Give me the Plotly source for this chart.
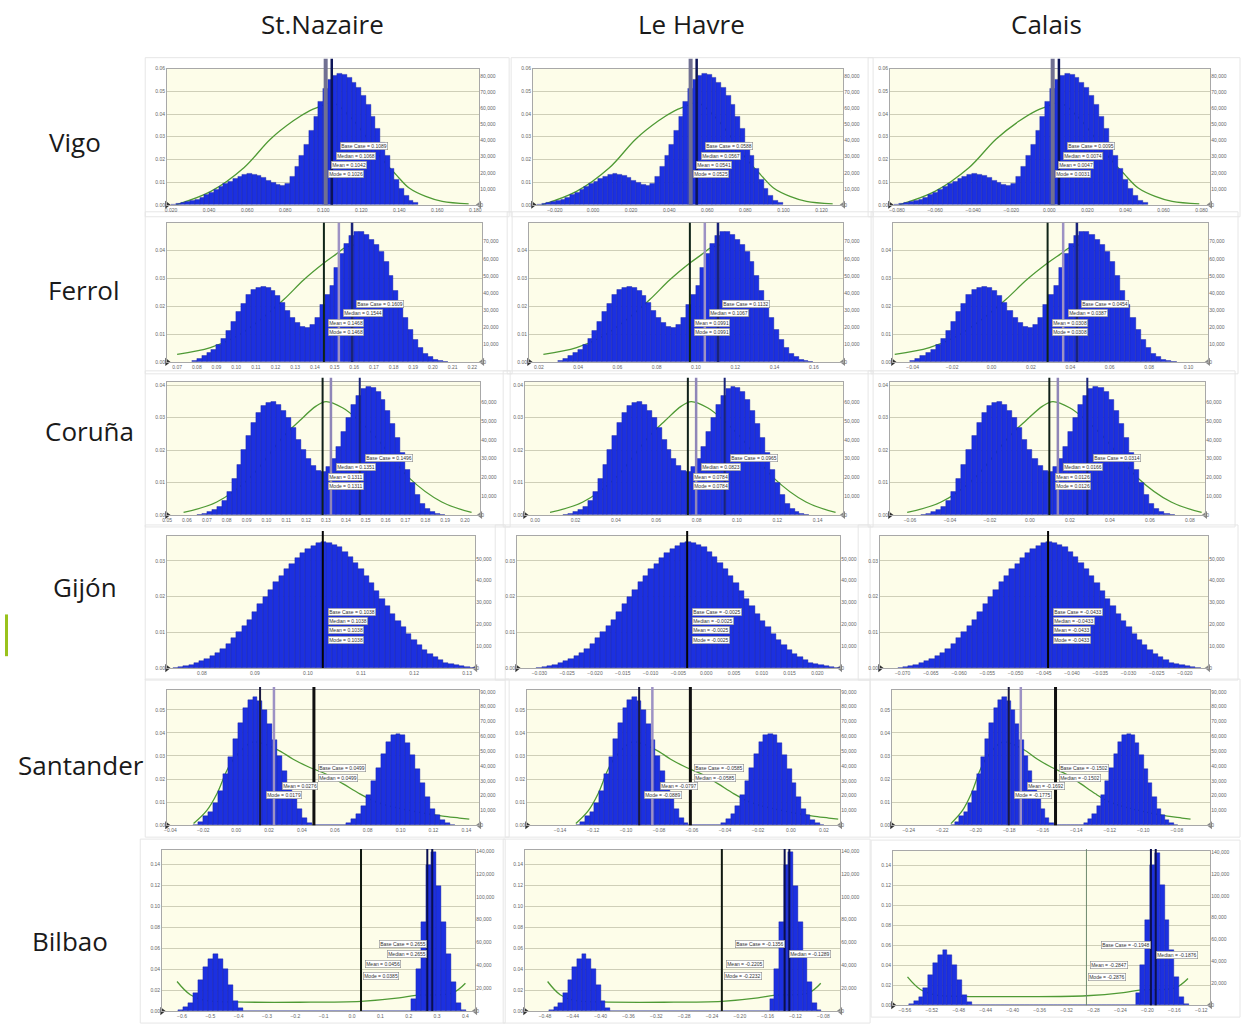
import plotly.graph_objects as go

W, H = 1246, 1035

ports = ["St.Nazaire", "Le Havre", "Calais"]
routes = ["Vigo", "Ferrol", "Coruña", "Gijón", "Santander", "Bilbao"]

# ---------------- DATA ----------------
# Histogram bar heights (density per bin, left-axis units).
# The Le Havre and Calais panels of the same route show the same shape on their own x scale.
vigo_h = [0.0002, 0.0004, 0.0008, 0.0012, 0.0018, 0.0025, 0.0033, 0.0043, 0.0054, 0.0066,
          0.0079, 0.0092, 0.0104, 0.0115, 0.0125, 0.0132, 0.0136, 0.0135, 0.0130, 0.0120,
          0.0108, 0.0096, 0.0088, 0.0085, 0.0095, 0.0125, 0.0170, 0.0215, 0.0265, 0.0325,
          0.0390, 0.0455, 0.0510, 0.0550, 0.0570, 0.0578, 0.0572, 0.0560, 0.0540, 0.0515,
          0.0480, 0.0440, 0.0390, 0.0335, 0.0275, 0.0215, 0.0160, 0.0110, 0.0070, 0.0040,
          0.0020, 0.0008]
ferrol_h = [0.0005, 0.0012, 0.0022, 0.0032, 0.0045, 0.0060, 0.0085, 0.0112, 0.0145, 0.0180,
            0.0210, 0.0240, 0.0258, 0.0268, 0.0271, 0.0268, 0.0255, 0.0236, 0.0212, 0.0185,
            0.0160, 0.0140, 0.0126, 0.0124, 0.0135, 0.0160, 0.0205, 0.0240, 0.0275, 0.0340,
            0.0390, 0.0425, 0.0452, 0.0466, 0.0468, 0.0458, 0.0440, 0.0422, 0.0395, 0.0360,
            0.0310, 0.0255, 0.0205, 0.0160, 0.0115, 0.0080, 0.0050, 0.0030, 0.0017, 0.0009,
            0.0004, 0.0002]
coruna_h = [0.0001, 0.0004, 0.0009, 0.0016, 0.0026, 0.0045, 0.0072, 0.0110, 0.0155, 0.0200,
            0.0245, 0.0285, 0.0315, 0.0335, 0.0346, 0.0349, 0.0340, 0.0322, 0.0298, 0.0268,
            0.0232, 0.0200, 0.0172, 0.0150, 0.0135, 0.0134, 0.0148, 0.0172, 0.0210, 0.0255,
            0.0300, 0.0340, 0.0368, 0.0388, 0.0396, 0.0393, 0.0380, 0.0356, 0.0322, 0.0282,
            0.0238, 0.0190, 0.0140, 0.0098, 0.0062, 0.0036, 0.0018, 0.0009, 0.0004, 0.0001]
gijon_h = [0.0002, 0.0004, 0.0007, 0.0010, 0.0014, 0.0019, 0.0025, 0.0033, 0.0043, 0.0055,
           0.0069, 0.0084, 0.0100, 0.0117, 0.0136, 0.0157, 0.0179, 0.0199, 0.0220, 0.0240,
           0.0259, 0.0277, 0.0293, 0.0309, 0.0322, 0.0334, 0.0343, 0.0350, 0.0353, 0.0351,
           0.0346, 0.0338, 0.0326, 0.0311, 0.0295, 0.0277, 0.0258, 0.0238, 0.0216, 0.0195,
           0.0174, 0.0153, 0.0133, 0.0114, 0.0096, 0.0079, 0.0066, 0.0051, 0.0040, 0.0031,
           0.0023, 0.0016, 0.0012, 0.0008, 0.0005, 0.0003, 0.0001]
santander_h = [0.0003, 0.0015, 0.0038, 0.0059, 0.0097, 0.0150, 0.0222, 0.0297, 0.0373, 0.0443,
               0.0510, 0.0543, 0.0555, 0.0540, 0.0500, 0.0440, 0.0370, 0.0300, 0.0235, 0.0170,
               0.0115, 0.0070, 0.0033, 0.0010, 0.0001, 0.0, 0.0, 0.0, 0.0, 0.0,
               0.0001, 0.0010, 0.0026, 0.0050, 0.0082, 0.0130, 0.0190, 0.0250, 0.0310, 0.0360,
               0.0390, 0.0397, 0.0390, 0.0355, 0.0305, 0.0245, 0.0183, 0.0123, 0.0072, 0.0043,
               0.0023, 0.0010, 0.0003]
bilbao_h = [0.001, 0.004, 0.008, 0.017, 0.030, 0.042, 0.050, 0.055, 0.050, 0.040,
            0.025, 0.010, 0.003, 0.0, 0.0, 0.0, 0.0, 0.0, 0.0, 0.0,
            0.0, 0.0, 0.0, 0.0, 0.0, 0.0, 0.0, 0.0, 0.0, 0.0,
            0.0, 0.0, 0.0, 0.0, 0.0, 0.0, 0.0, 0.0, 0.0, 0.0,
            0.0, 0.0, 0.0, 0.0, 0.0, 0.0, 0.0, 0.012, 0.040, 0.085,
            0.140, 0.152, 0.120, 0.085, 0.055, 0.028, 0.008, 0.001]

# First bin edge and bin width for (St.Nazaire, Le Havre, Calais)
vigo_bins = [(0.0200, 0.0025), (-0.0294, 0.00248), (-0.0815, 0.00256)]
ferrol_bins = [(0.0775, 0.0025), (0.0298, 0.0025), (-0.0413, 0.0026)]
coruna_bins = [(0.0650, 0.0025), (0.0139, 0.00244), (-0.0546, 0.00254)]
gijon_bins = [(0.0745, 0.0010), (-0.0305, 0.000957), (-0.0709, 0.000942)]
santander_bins = [(-0.0260, 0.0030), (-0.1305, 0.002845), (-0.2149, 0.002558)]
bilbao_bins = [(-0.6125, 0.0175), (-0.4743, 0.00675), (-0.5540, 0.00716)]

# Green fitted curve (St.Nazaire units)
vigo_gx = [0.0226, 0.0409, 0.0583, 0.0722, 0.0843, 0.0930, 0.0974, 0.1050, 0.1150, 0.1225,
           0.1304, 0.1383, 0.1452, 0.1539, 0.1626, 0.1765]
vigo_gy = [0.0000, 0.0059, 0.0163, 0.0289, 0.0370, 0.0415, 0.0430, 0.0450, 0.0380, 0.0300,
           0.0207, 0.0133, 0.0074, 0.0037, 0.0015, 0.0004]
ferrol_gx = [0.0700, 0.0869, 0.1005, 0.1124, 0.1242, 0.1344, 0.1446, 0.1514, 0.1547, 0.1600]
ferrol_gy = [0.0027, 0.0051, 0.0093, 0.0152, 0.0224, 0.0295, 0.0355, 0.0390, 0.0408, 0.0420]
coruna_gx = [0.0583, 0.0750, 0.0917, 0.1083, 0.1167, 0.1250, 0.1300, 0.1383, 0.1467, 0.1550,
             0.1717, 0.1883, 0.2033]
coruna_gy = [0.0008, 0.0040, 0.0115, 0.0240, 0.0290, 0.0335, 0.0349, 0.0330, 0.0290, 0.0240,
             0.0115, 0.0040, 0.0008]
gijon_gx = []
gijon_gy = []
santander_gx = [-0.0259, -0.0178, -0.0117, -0.0057, -0.0016, 0.0100, 0.0246, 0.0347, 0.0448,
                0.0549, 0.0651, 0.0752, 0.0853, 0.0954, 0.1055, 0.1156, 0.1257, 0.1358, 0.1418]
santander_gy = [0.0007, 0.0064, 0.0136, 0.0236, 0.0286, 0.0360, 0.0329, 0.0286, 0.0250,
                0.0221, 0.0179, 0.0136, 0.0100, 0.0079, 0.0064, 0.0050, 0.0039, 0.0031, 0.0026]
bilbao_gx = [-0.6175, -0.5708, -0.5123, -0.4187, -0.1848, 0.0316, 0.1660, 0.2246, 0.3530, 0.4000]
bilbao_gy = [0.0283, 0.0157, 0.0100, 0.0088, 0.0085, 0.0094, 0.0126, 0.0151, 0.0173, 0.0267]

# Statistic marker lines (St.Nazaire units)
vigo_stats = [0.1013, 0.1045]
ferrol_stats = [0.1446, 0.1522, 0.1589]
coruna_stats = [0.1283, 0.1325, 0.1470]
gijon_stats = [0.1028]
santander_stats = [0.01455, 0.0230, 0.0473]
bilbao_stats = [0.0316, 0.2655, 0.2830]

# Statistic labels: names and anchor values (St.Nazaire units)
stat_names = ["Base Case", "Median", "Mean", "Mode"]
vigo_lab_x = [0.1089, 0.1068, 0.1042, 0.1026]
ferrol_lab_x = [0.1609, 0.1544, 0.1468, 0.1468]
coruna_lab_x = [0.1496, 0.1351, 0.1311, 0.1311]
gijon_lab_x = [0.1038, 0.1038, 0.1038, 0.1038]
santander_lab_x = [0.0499, 0.0499, 0.0276, 0.0179]
bilbao_lab_x = [0.2655, 0.2655, 0.0456, 0.0385]

# Axis scales
vigo_xrange = [(0.0179, 0.1821), (-0.0315, 0.1314), (-0.0837, 0.0845)]
vigo_xticks = [[0.02, 0.04, 0.06, 0.08, 0.10, 0.12, 0.14, 0.16, 0.18],
               [-0.02, 0.0, 0.02, 0.04, 0.06, 0.08, 0.10, 0.12],
               [-0.08, -0.06, -0.04, -0.02, 0.0, 0.02, 0.04, 0.06, 0.08]]
ferrol_xrange = [(0.0649, 0.2251), (0.015, 0.175), (-0.05, 0.11)]
ferrol_xticks = [[0.07, 0.08, 0.09, 0.10, 0.11, 0.12, 0.13, 0.14, 0.15, 0.16, 0.17, 0.18, 0.19,
                  0.20, 0.21, 0.22],
                 [0.02, 0.04, 0.06, 0.08, 0.10, 0.12, 0.14, 0.16],
                 [-0.04, -0.02, 0.0, 0.02, 0.04, 0.06, 0.08, 0.10]]
coruna_xrange = [(0.05, 0.2077), (-0.005, 0.1527), (-0.07, 0.0877)]
coruna_xticks = [[0.05, 0.06, 0.07, 0.08, 0.09, 0.10, 0.11, 0.12, 0.13, 0.14, 0.15, 0.16, 0.17,
                  0.18, 0.19, 0.20],
                 [0.0, 0.02, 0.04, 0.06, 0.08, 0.10, 0.12, 0.14],
                 [-0.06, -0.04, -0.02, 0.0, 0.02, 0.04, 0.06, 0.08]]
gijon_xrange = [(0.07344, 0.13156), (-0.034, 0.02412), (-0.074, -0.01588)]
gijon_xticks = [[0.08, 0.09, 0.10, 0.11, 0.12, 0.13],
                [-0.03, -0.025, -0.02, -0.015, -0.01, -0.005, 0.0, 0.005, 0.01, 0.015, 0.02],
                [-0.07, -0.065, -0.06, -0.055, -0.05, -0.045, -0.04, -0.035, -0.03, -0.025,
                 -0.02]]
santander_xrange = [(-0.042, 0.1479), (-0.16, 0.0299), (-0.25, -0.0601)]
santander_xticks = [[-0.04, -0.02, 0.0, 0.02, 0.04, 0.06, 0.08, 0.10, 0.12, 0.14],
                    [-0.14, -0.12, -0.10, -0.08, -0.06, -0.04, -0.02, 0.0, 0.02],
                    [-0.24, -0.22, -0.20, -0.18, -0.16, -0.14, -0.12, -0.10, -0.08]]
bilbao_xrange = [(-0.6702, 0.435), (-0.5086, -0.0557), (-0.5776, -0.1068)]
bilbao_xticks = [[-0.6, -0.5, -0.4, -0.3, -0.2, -0.1, 0.0, 0.1, 0.2, 0.3, 0.4],
                 [-0.48, -0.44, -0.40, -0.36, -0.32, -0.28, -0.24, -0.20, -0.16, -0.12, -0.08],
                 [-0.56, -0.52, -0.48, -0.44, -0.40, -0.36, -0.32, -0.28, -0.24, -0.20, -0.16,
                  -0.12]]

vigo_ymax, vigo_yticks = 0.06, [0.0, 0.01, 0.02, 0.03, 0.04, 0.05, 0.06]
ferrol_ymax, ferrol_yticks = 0.05, [0.0, 0.01, 0.02, 0.03, 0.04]
coruna_ymax, coruna_yticks = 0.041, [0.0, 0.01, 0.02, 0.03, 0.04]
gijon_ymax, gijon_yticks = 0.037, [0.0, 0.01, 0.02, 0.03]
santander_ymax, santander_yticks = 0.0586, [0.0, 0.01, 0.02, 0.03, 0.04, 0.05]
bilbao_ymax, bilbao_yticks = 0.154, [0.0, 0.02, 0.04, 0.06, 0.08, 0.10, 0.12, 0.14]

vigo_cmax, vigo_counts = 85000, [0, 10000, 20000, 30000, 40000, 50000, 60000, 70000, 80000]
ferrol_cmax, ferrol_counts = 81000, [0, 10000, 20000, 30000, 40000, 50000, 60000, 70000]
coruna_cmax, coruna_counts = 71000, [0, 10000, 20000, 30000, 40000, 50000, 60000]
gijon_cmax, gijon_counts = 60500, [0, 10000, 20000, 30000, 40000, 50000]
santander_cmax, santander_counts = 91300, [0, 10000, 20000, 30000, 40000, 50000, 60000, 70000,
                                           80000, 90000]
bilbao_cmax, bilbao_counts = 141000, [0, 20000, 40000, 60000, 80000, 100000, 120000, 140000]

ROUTE_DATA = [
    dict(h=vigo_h, bins=vigo_bins, gx=vigo_gx, gy=vigo_gy, stats=vigo_stats, labx=vigo_lab_x,
         xr=vigo_xrange, xt=vigo_xticks, ymax=vigo_ymax, yt=vigo_yticks,
         cmax=vigo_cmax, ct=vigo_counts),
    dict(h=ferrol_h, bins=ferrol_bins, gx=ferrol_gx, gy=ferrol_gy, stats=ferrol_stats,
         labx=ferrol_lab_x, xr=ferrol_xrange, xt=ferrol_xticks, ymax=ferrol_ymax,
         yt=ferrol_yticks, cmax=ferrol_cmax, ct=ferrol_counts),
    dict(h=coruna_h, bins=coruna_bins, gx=coruna_gx, gy=coruna_gy, stats=coruna_stats,
         labx=coruna_lab_x, xr=coruna_xrange, xt=coruna_xticks, ymax=coruna_ymax,
         yt=coruna_yticks, cmax=coruna_cmax, ct=coruna_counts),
    dict(h=gijon_h, bins=gijon_bins, gx=gijon_gx, gy=gijon_gy, stats=gijon_stats,
         labx=gijon_lab_x, xr=gijon_xrange, xt=gijon_xticks, ymax=gijon_ymax,
         yt=gijon_yticks, cmax=gijon_cmax, ct=gijon_counts),
    dict(h=santander_h, bins=santander_bins, gx=santander_gx, gy=santander_gy,
         stats=santander_stats, labx=santander_lab_x, xr=santander_xrange,
         xt=santander_xticks, ymax=santander_ymax, yt=santander_yticks,
         cmax=santander_cmax, ct=santander_counts),
    dict(h=bilbao_h, bins=bilbao_bins, gx=bilbao_gx, gy=bilbao_gy, stats=bilbao_stats,
         labx=bilbao_lab_x, xr=bilbao_xrange, xt=bilbao_xticks, ymax=bilbao_ymax,
         yt=bilbao_yticks, cmax=bilbao_cmax, ct=bilbao_counts),
]

# ---------------- LAYOUT / STYLE ----------------
PLOT_X = [[(163, 477), (531, 843), (890, 1212)],
          [(163, 480), (527, 843), (893, 1210)],
          [(163, 478), (523, 843), (890, 1207)],
          [(163, 473), (515, 840), (880, 1210)],
          [(163, 477), (525, 840), (892, 1212)],
          [(158, 473), (523, 840), (893, 1212)]]
PLOT_Y = [(66, 203), (221, 361), (381, 515), (536, 669), (691, 827), (852, 1014)]
LINE_TOP = [56, 221, 377, 531, 688, 851]
LABEL_DY = [[78, 87.5, 97, 106], [82, 91, 100.5, 109.5], [76.5, 85.5, 95.5, 104.5],
            [77, 86, 95, 104.5], [78.5, 88.5, 97, 106], [94, 104.5, 115, 126.5]]
XFMT = [[".3f", ".3f", ".3f"], [".2f", ".2f", ".2f"], [".2f", ".2f", ".2f"],
        [".2f", ".3f", ".3f"], [".2f", ".2f", ".2f"], [".1f", ".2f", ".2f"]]
LINE_STYLE = [
    [("#707092", 4), ("#0c1458", 2.5)],
    [("#0f2418", 2), ("#9d92c4", 2.5), ("#1a2478", 2.5)],
    [("#10201a", 2), ("#8f86b8", 2.5), ("#1a2478", 2)],
    [("#050505", 2)],
    [("#1a1a40", 2), ("#9d92c4", 2.5), ("#101010", 3)],
    [("#101810", 2), ("#0a1050", 2), ("#0a1050", 2)],
]
BLUE = "#1c30e0"
BAR_EDGE = "#1622a0"
GREEN = "#4f9a35"
TICKFONT = dict(family="Liberation Sans, Arial", size=5, color="#666666")
HEAD_FONT = dict(family="Open Sans", size=26, color="#1a1a1a")


def axid(letter, n):
    return letter if n == 1 else f"{letter}{n}"


def axname(letter, n):
    return f"{letter}axis" if n == 1 else f"{letter}axis{n}"


fig = go.Figure()
layout = {}
shapes = []
annotations = []

for r in range(6):
    D = ROUTE_DATA[r]
    e01, w1 = D["bins"][0]
    yt_px, yb_px = PLOT_Y[r]
    for c in range(3):
        k = r * 3 + c
        xn = k + 1
        yna, ynb, ync = 3 * k + 1, 3 * k + 2, 3 * k + 3
        xa, ya, yb, yc = axid("x", xn), axid("y", yna), axid("y", ynb), axid("y", ync)
        e0, w = D["bins"][c]

        def tomap(v, e0=e0, w=w):
            return e0 + (v - e01) * w / w1

        x0p, x1p = PLOT_X[r][c]
        ytop, ybot = yt_px, yb_px
        if r == 5 and c == 2:
            ytop, ybot = 853, 1008
        xlo, xhi = D["xr"][c]
        ydom = [1 - ybot / H, 1 - ytop / H]

        # corner glyphs of the original software (on the base axis so it always has a trace)
        fig.add_trace(go.Scatter(x=[xlo, xhi], y=[0, 0], mode="markers",
                                 marker=dict(symbol=["triangle-right", "triangle-left"], size=7,
                                             color=["#333333", "#888888"]),
                                 cliponaxis=False, xaxis=xa, yaxis=ya, hoverinfo="skip",
                                 showlegend=False))
        # green curve (drawn beneath the bars)
        if D["gx"]:
            fig.add_trace(go.Scatter(x=[tomap(v) for v in D["gx"]], y=D["gy"], mode="lines",
                                     line=dict(color=GREEN, width=1.3, shape="spline"),
                                     xaxis=xa, yaxis=ya, hoverinfo="skip", showlegend=False))
        centers = [e0 + w * (i + 0.5) for i in range(len(D["h"]))]
        fig.add_trace(go.Bar(x=centers, y=D["h"], width=w,
                             marker=dict(color=BLUE, line=dict(color=BAR_EDGE, width=0.4)),
                             xaxis=xa, yaxis=yb, hoverinfo="skip", showlegend=False))
        # invisible point so the count axis is registered
        fig.add_trace(go.Scatter(x=[xlo], y=[0], mode="markers", marker=dict(size=1, opacity=0),
                                 xaxis=xa, yaxis=yc, hoverinfo="skip", showlegend=False))

        layout[axname("x", xn)] = dict(domain=[x0p / W, x1p / W], anchor=ya, range=[xlo, xhi],
                                       tickvals=D["xt"][c], tickformat=XFMT[r][c],
                                       tickfont=TICKFONT, showgrid=False, zeroline=False,
                                       showline=True, linecolor="#a8a8a8", linewidth=1,
                                       mirror=True, ticks="", ticklen=0, fixedrange=True)
        layout[axname("y", yna)] = dict(domain=ydom, anchor=xa,
                                        range=[0, D["ymax"]], tickvals=D["yt"],
                                        tickformat=".2f", tickfont=TICKFONT,
                                        gridcolor="#cfcfb8", gridwidth=1, showline=True,
                                        linecolor="#a8a8a8", mirror=True, zeroline=False,
                                        ticks="", fixedrange=True)
        layout[axname("y", ynb)] = dict(overlaying=ya, anchor=xa, domain=ydom,
                                        range=[0, D["ymax"]], visible=False, fixedrange=True)
        layout[axname("y", ync)] = dict(overlaying=ya, anchor=xa, side="right", domain=ydom,
                                        range=[0, D["cmax"]], tickvals=D["ct"],
                                        tickformat=",d", tickfont=TICKFONT, showgrid=False,
                                        zeroline=False, showline=False, ticks="",
                                        fixedrange=True)

        # statistic lines
        for j, sv in enumerate(D["stats"]):
            col, lw = LINE_STYLE[r][j]
            if r == 5 and c == 2 and j == 0:
                col, lw = "#6f8a6f", 1
            xv = tomap(sv)
            shapes.append(dict(type="line", xref=xa, yref="paper", x0=xv, x1=xv,
                               y0=1 - ybot / H, y1=1 - LINE_TOP[r] / H,
                               line=dict(color=col, width=lw), layer="above"))

        # statistic labels
        for j, lx in enumerate(D["labx"]):
            anchor = "left"
            ax = lx
            if r == 5:
                if j == 0:
                    anchor = "right"
                elif j == 1:
                    if c == 0:
                        anchor = "right"
                    else:
                        ax = D["stats"][2]
            xv = tomap(ax)
            annotations.append(dict(
                x=xv, xref=xa, y=1 - (ytop + LABEL_DY[r][j]) / H, yref="paper",
                xanchor=anchor, yanchor="middle", showarrow=False,
                text=f"{stat_names[j]} = {xv:.4f}",
                font=dict(family="Liberation Sans, Arial", size=5, color="#333333"),
                bgcolor="#ffffff", bordercolor="#8a8a8a", borderwidth=0.6, borderpad=0.6))

        # faint frame of each captured chart
        shapes.append(dict(type="rect", xref="paper", yref="paper",
                           x0=(x0p - 22) / W, x1=(x1p + 30) / W,
                           y0=1 - (ybot + 12) / H, y1=1 - (ytop - 11) / H,
                           line=dict(color="#e6e6e6", width=1), layer="below"))

# column titles
TITLE_X = [319, 690, 1047]
for c, name in enumerate(ports):
    annotations.append(dict(x=TITLE_X[c] / W, y=1 - 21 / H, xref="paper", yref="paper",
                            text=name, showarrow=False, xanchor="center", yanchor="middle",
                            font=HEAD_FONT))

# row labels
ROW_LAB = [(70, 140), (79, 289), (85, 430), (80, 587), (76, 766), (65, 943)]
for r, name in enumerate(routes):
    xp, yp = ROW_LAB[r]
    annotations.append(dict(x=xp / W, y=1 - yp / H, xref="paper", yref="paper",
                            text=name, showarrow=False, xanchor="center", yanchor="middle",
                            font=HEAD_FONT))

# small green marker at the left border
shapes.append(dict(type="rect", xref="paper", yref="paper", x0=0, x1=3 / W,
                   y0=1 - 657 / H, y1=1 - 615 / H, fillcolor="#99c21c",
                   line=dict(width=0), layer="above"))

fig.update_layout(
    width=W, height=H, margin=dict(l=0, r=0, t=0, b=0),
    paper_bgcolor="#ffffff", plot_bgcolor="#fdfde9",
    showlegend=False, bargap=0, barmode="overlay",
    shapes=shapes, annotations=annotations, **layout)

fig.write_html("out.html")
